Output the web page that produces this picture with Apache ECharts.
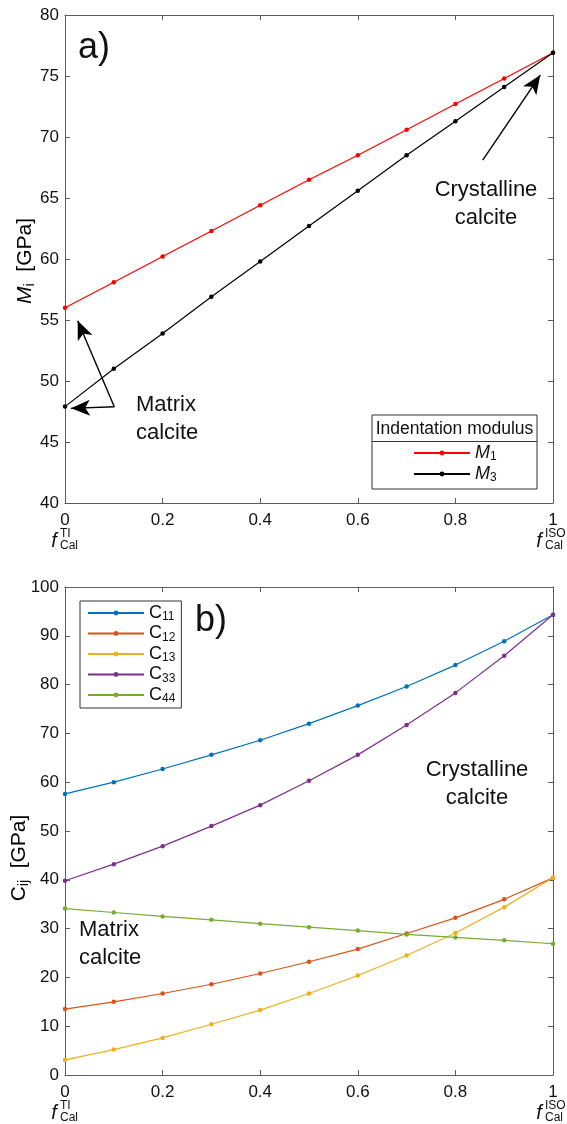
<!DOCTYPE html>
<html>
<head>
<meta charset="utf-8">
<script src="https://cdn.jsdelivr.net/npm/echarts@6/dist/echarts.min.js"></script>
<style>
  html, body { margin: 0; padding: 0; background: #ffffff; }
  #chart { width: 567px; height: 1124px; }
</style>
</head>
<body>
<div id="chart"></div>
<script>
// Calcite volume fraction (0 = transversely isotropic matrix, 1 = isotropic crystal)
const fraction = [0, 0.1, 0.2, 0.3, 0.4, 0.5, 0.6, 0.7, 0.8, 0.9, 1.0];

// a) Indentation moduli [GPa]
const M1 = [56.0, 58.1, 60.2, 62.3, 64.4, 66.5, 68.5, 70.6, 72.7, 74.8, 76.9];
const M3 = [47.9, 51.0, 53.9, 56.9, 59.8, 62.7, 65.6, 68.5, 71.3, 74.1, 76.9];

// b) Stiffness coefficients [GPa]
const C11 = [57.6, 60.0, 62.7, 65.6, 68.6, 72.0, 75.7, 79.6, 84.0, 88.9, 94.3];
const C12 = [13.5, 15.0, 16.7, 18.6, 20.8, 23.2, 25.8, 29.0, 32.2, 36.0, 40.4];
const C13 = [3.1, 5.2, 7.6, 10.4, 13.3, 16.7, 20.4, 24.5, 29.1, 34.4, 40.4];
const C33 = [39.8, 43.2, 46.9, 51.0, 55.3, 60.3, 65.6, 71.7, 78.3, 85.9, 94.3];
const C44 = [34.1, 33.3, 32.5, 31.8, 31.0, 30.3, 29.6, 28.8, 28.2, 27.6, 26.9];

// Axis ranges / tick spacing
const xRange = [0, 1], xStep = 0.2;
const yRangeA = [40, 80], yStepA = 5;
const yRangeB = [0, 100], yStepB = 10;

// Arrow annotations in data coordinates of panel a): [from, to]
const arrowsA = [
  [[0.856, 68.11], [0.974, 75.08]],
  [[0.101, 47.89], [0.0123, 47.76]],
  [[0.101, 47.89], [0.026, 54.94]]
];

const FONT = '"Liberation Sans", Arial, Helvetica, sans-serif';
const AXIS_COLOR = '#5c5c5c';
const TEXT_COLOR = '#111111';

const pairs = ys => fraction.map((x, i) => [x, ys[i]]);

function xAxisPair(grid) {
  const base = {
    gridIndex: grid, type: 'value', min: xRange[0], max: xRange[1], interval: xStep,
    axisLine: { show: true, onZero: false, lineStyle: { color: AXIS_COLOR, width: 1 } },
    axisTick: { show: true, inside: true, length: 5, lineStyle: { color: AXIS_COLOR } },
    splitLine: { show: false }
  };
  return [
    Object.assign({}, base, { position: 'bottom',
      axisLabel: { show: true, color: TEXT_COLOR, fontSize: 17, fontFamily: FONT, margin: 9 } }),
    Object.assign({}, base, { position: 'top', axisLabel: { show: false } })
  ];
}
function yAxisPair(grid, range, step) {
  const base = {
    gridIndex: grid, type: 'value', min: range[0], max: range[1], interval: step,
    axisLine: { show: true, onZero: false, lineStyle: { color: AXIS_COLOR, width: 1 } },
    axisTick: { show: true, inside: true, length: 5, lineStyle: { color: AXIS_COLOR } },
    splitLine: { show: false }
  };
  return [
    Object.assign({}, base, { position: 'left',
      axisLabel: { show: true, color: TEXT_COLOR, fontSize: 17, fontFamily: FONT, margin: 6 } }),
    Object.assign({}, base, { position: 'right', axisLabel: { show: false } })
  ];
}

function lineSeries(name, ys, color, xi, yi, extra) {
  return Object.assign({
    name: name, type: 'line', data: pairs(ys),
    xAxisIndex: xi, yAxisIndex: yi,
    symbol: 'circle', symbolSize: 4.5, showSymbol: true,
    lineStyle: { color: color, width: 1.2 },
    itemStyle: { color: color },
    emphasis: { disabled: true },
    animation: false, z: 3
  }, extra || {});
}

const subRich = {
  n: { fontSize: 18, fontFamily: FONT, color: TEXT_COLOR, lineHeight: 20 },
  i: { fontSize: 18, fontFamily: FONT, fontStyle: 'italic', color: TEXT_COLOR, lineHeight: 20 },
  s: { fontSize: 12, fontFamily: FONT, color: TEXT_COLOR, lineHeight: 12, verticalAlign: 'bottom' }
};

const arrowMarks = {
  silent: true,
  label: { show: false },
  emphasis: { disabled: true },
  lineStyle: { color: '#000000', width: 1.4, type: 'solid' },
  data: arrowsA.map(a => [
    { coord: a[0], symbol: 'none' },
    { coord: a[1], symbol: 'arrow', symbolSize: [12, 19] }
  ])
};

// Text helper for graphic elements
function txt(x, y, text, size, opts) {
  return {
    type: 'text', x: x, y: y, silent: true,
    rotation: (opts && opts.rotation) || 0,
    style: Object.assign({
      text: text, fontSize: size, fontFamily: FONT, fill: TEXT_COLOR,
      textAlign: (opts && opts.align) || 'left', textVerticalAlign: 'middle'
    }, (opts && opts.style) || {})
  };
}
// f with stacked superscript/subscript labels under the x-axis ends
function fLabel(cx, cy, sup, sub) {
  return [
    txt(cx, cy, 'f', 20, { align: 'center', style: { fontStyle: 'italic' } }),
    txt(cx + 6, cy - 7, sup, 12),
    txt(cx + 6, cy + 5, sub, 12)
  ];
}

const rotRich = {
  n: { fontSize: 21, fontFamily: FONT, color: TEXT_COLOR, lineHeight: 24 },
  i: { fontSize: 21, fontFamily: FONT, fontStyle: 'italic', color: TEXT_COLOR, lineHeight: 24 },
  s: { fontSize: 14, fontFamily: FONT, color: TEXT_COLOR, lineHeight: 14, verticalAlign: 'bottom' }
};

const graphics = [
  // panel tags
  txt(78, 48, 'a)', 36),
  txt(195, 621, 'b)', 36),
  // y-axis titles
  { type: 'text', x: 25, y: 261, rotation: Math.PI / 2, silent: true,
    style: { text: '{i|M}{s|i}{n|  [GPa]}', rich: rotRich, textAlign: 'center', textVerticalAlign: 'middle' } },
  { type: 'text', x: 19, y: 858, rotation: Math.PI / 2, silent: true,
    style: { text: '{n|C}{s|ij}{n|  [GPa]}', rich: rotRich, textAlign: 'center', textVerticalAlign: 'middle' } },
  // annotations panel a)
  txt(486, 190, 'Crystalline', 22, { align: 'center' }),
  txt(486, 218, 'calcite', 22, { align: 'center' }),
  txt(136, 405, 'Matrix', 22),
  txt(136, 433, 'calcite', 22),
  // annotations panel b)
  txt(477, 770, 'Crystalline', 22, { align: 'center' }),
  txt(477, 798, 'calcite', 22, { align: 'center' }),
  txt(79, 930, 'Matrix', 22),
  txt(79, 958, 'calcite', 22),
  // legend frame for panel a)
  { type: 'rect', silent: true, shape: { x: 372, y: 415, width: 165, height: 74 },
    style: { fill: '#ffffff', stroke: '#333333', lineWidth: 1 }, z: 10 },
  { type: 'line', silent: true, shape: { x1: 372, y1: 441.5, x2: 537, y2: 441.5 },
    style: { stroke: '#333333', lineWidth: 1 }, z: 11 },
  Object.assign(txt(454.5, 429, 'Indentation modulus', 17.5, { align: 'center' }), { z: 11 })
]
  .concat(fLabel(54, 541, 'TI', 'Cal'))
  .concat(fLabel(539, 541, 'ISO', 'Cal'))
  .concat(fLabel(54, 1113, 'TI', 'Cal'))
  .concat(fLabel(539, 1113, 'ISO', 'Cal'));

const xa = xAxisPair(0).concat(xAxisPair(1));
const ya = yAxisPair(0, yRangeA, yStepA).concat(yAxisPair(1, yRangeB, yStepB));

const option = {
  backgroundColor: '#ffffff',
  animation: false,
  textStyle: { fontFamily: FONT },
  grid: [
    { left: 65, top: 15, width: 488, height: 488, containLabel: false },
    { left: 65, top: 587, width: 488, height: 488, containLabel: false }
  ],
  xAxis: xa,
  yAxis: ya,
  legend: [
    {
      data: ['M1', 'M3'], orient: 'vertical', left: 413, top: 444,
      itemWidth: 56, itemHeight: 6, itemGap: 2, padding: 0, z: 12,
      selectedMode: false,
      formatter: n => '{i|M}{s|' + n.slice(1) + '}',
      textStyle: { rich: subRich }
    },
    {
      data: ['C11', 'C12', 'C13', 'C33', 'C44'], orient: 'vertical', left: 80, top: 601,
      itemWidth: 56, itemHeight: 6, itemGap: 1.5, padding: [3, 6, 3, 7],
      borderColor: '#333333', borderWidth: 1, backgroundColor: '#ffffff', z: 12,
      selectedMode: false,
      formatter: n => '{n|C}{s|' + n.slice(1) + '}',
      textStyle: { rich: subRich }
    }
  ],
  series: [
    lineSeries('M1', M1, '#ff0000', 0, 0),
    lineSeries('M3', M3, '#000000', 0, 0, { markLine: arrowMarks }),
    lineSeries('C11', C11, '#0072bd', 2, 2),
    lineSeries('C12', C12, '#d95319', 2, 2),
    lineSeries('C13', C13, '#edb120', 2, 2),
    lineSeries('C33', C33, '#7e2f8e', 2, 2),
    lineSeries('C44', C44, '#77ac30', 2, 2)
  ],
  graphic: graphics
};

const chart = echarts.init(document.getElementById('chart'), null, { renderer: 'canvas' });
chart.setOption(option);
</script>
</body>
</html>
